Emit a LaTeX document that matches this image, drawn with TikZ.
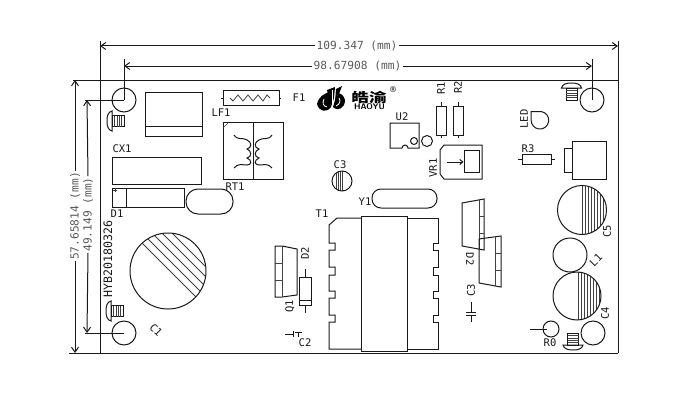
\documentclass[tikz,border=0pt]{standalone}
\usepackage{fontspec}
\setmainfont{DejaVu Sans}
\setmonofont{DejaVu Sans Mono}
\newfontfamily\cjk{Noto Sans CJK SC}
\usetikzlibrary{arrows.meta}

\tikzset{
	part/.style={draw=black!90, line width=1pt},
	fine/.style={draw=black!75, line width=0.6pt},
	lbl/.style={font=\ttfamily\fontsize{10.5}{12}\selectfont, text=black!90, inner sep=0pt},
	dimlbl/.style={font=\ttfamily\fontsize{11.2}{12}\selectfont, text=black!65, inner sep=1pt},
	dimline/.style={draw=black!90, line width=1pt, {Straight Barb[length=5pt,width=7pt]}-},
	screw/.pic={
		\draw[part] (5,-10) .. controls (1,-9) and (0,-5) .. (0,0) .. controls (0,5) and (1,9) .. (5,10) -- cycle;
		\draw[part] (5,-5.5) rectangle (17,5.5);
		\foreach \tx in {7.4,9.8,12.2,14.6}
			\draw[fine] (\tx,-5.5) -- (\tx,5.5);
	},
}

\begin{document}
\begin{tikzpicture}[x=1pt, y=-1pt]
	\useasboundingbox (0,0) rectangle (700,404);

	% board edge and extension lines
	\coordinate (topL) at (73,80);
	\coordinate (topR) at (618,80);
	\coordinate (botL) at (69,353);
	\coordinate (botR) at (618,353);
	\coordinate (edgeL) at (100,41);
	\coordinate (edgeLb) at (100,353);
	\coordinate (edgeR) at (618,41);
	\draw[part] (topL) -- (topR);
	\draw[part] (botL) -- (botR);
	\draw[part] (edgeL) -- (edgeLb);
	\draw[part] (edgeR) -- (botR);

	% holes
	\node[part, circle, minimum size=24pt, inner sep=0pt] (holeTL) at (124,100) {};
	\node[part, circle, minimum size=24pt, inner sep=0pt] (holeTR) at (592,100) {};
	\node[part, circle, minimum size=24pt, inner sep=0pt] (holeBL) at (124,333) {};
	\node[part, circle, minimum size=24pt, inner sep=0pt] (holeBR) at (593,333) {};
	\coordinate (extL) at (124,59);
	\coordinate (extR) at (592,59);
	\coordinate (extA) at (85,100);
	\coordinate (extB) at (85,333);
	\draw[part] (extL) -- (holeTL.center);
	\draw[part] (extR) -- (holeTR.center);
	\draw[part] (extA) -- (holeTL.center);
	\draw[part] (extB) -- (holeBL.center);

	% dimensions
	\node[dimlbl] (dimA) at (357,46) {109.347 (mm)};
	\node[dimlbl] (dimB) at (357.5,66) {98.67908 (mm)};
	\node[dimlbl, rotate=90] (dimC) at (75,216) {57.65814 (mm)};
	\node[dimlbl, rotate=90] (dimD) at (88,214.5) {49.149 (mm)};
	\coordinate (dimAl) at (100,46);
	\coordinate (dimAr) at (618,46);
	\coordinate (dimBl) at (124,66);
	\coordinate (dimBr) at (592,66);
	\coordinate (dimCt) at (75,80);
	\coordinate (dimCb) at (75,353);
	\coordinate (dimDt) at (87,100);
	\coordinate (dimDb) at (87,333);
	\draw[dimline] (dimAl) -- (dimA.west);
	\draw[dimline] (dimAr) -- (dimA.east);
	\draw[dimline] (dimBl) -- (dimB.west);
	\draw[dimline] (dimBr) -- (dimB.east);
	\draw[dimline] (dimCt) -- (dimC.east);
	\draw[dimline] (dimCb) -- (dimC.west);
	\draw[dimline] (dimDt) -- (dimD.east);
	\draw[dimline] (dimDb) -- (dimD.west);

	% screws
	\pic at (107,121) {screw};
	\pic at (106,311) {screw};
	\pic[rotate=-90] at (571.5,83) {screw};
	\pic[rotate=90] at (573,350) {screw};

	% left side parts
	\draw[part] (145,92) rectangle (202,136);
	\draw[part] (145,126) -- (202,126);
	\draw[part] (112,157) rectangle (201,184);
	\node[lbl] (labCX) at (122,149) {CX1};
	\draw[part] (112,188) rectangle (184,207);
	\draw[part] (126,188) -- (126,207);
	\draw[fine] (113,190) -- (117,190) (115,188) -- (115,192);
	\node[lbl] (labDa) at (117,214) {D1};
	\draw[part, rounded corners=12pt] (186,189) rectangle (233,214);
	\node[lbl] (labRT) at (235,187) {RT1};
	\node[lbl, rotate=90, font=\ttfamily\fontsize{11.6}{12}\selectfont] (labHYB) at (108,259) {HYB20180326};

	% F1 and LF1
	\draw[part] (223,90) rectangle (279,105);
	\draw[part] (221,98) -- (223,98) (279,98) -- (281,98);
	\draw[fine, line width=0.8pt] (230,98) -- (233,101) -- (238,95) -- (243,101) -- (248,95) -- (253,101) -- (258,95) -- (263,101) -- (267,95) -- (270,98);
	\node[lbl] (labF) at (299,98) {F1};
	\node[lbl] (labLF) at (221,113) {LF1};
	\draw[part] (223,122) rectangle (283,179);
	\draw[part] (253,122) -- (253,179);
	\draw[fine] (223,128) -- (229,122);
	\draw[part] (234,135) .. controls (238,141) and (243,137) .. (247,140)
		.. controls (252,142) and (252,148) .. (247,149)
		.. controls (252,151) and (252,157) .. (247,158)
		.. controls (252,160) and (252,165) .. (247,165)
		.. controls (242,165) and (238,163) .. (234,168);
	\begin{scope}[xshift=506pt, xscale=-1]
		\draw[part] (234,135) .. controls (238,141) and (243,137) .. (247,140)
			.. controls (252,142) and (252,148) .. (247,149)
			.. controls (252,151) and (252,157) .. (247,158)
			.. controls (252,160) and (252,165) .. (247,165)
			.. controls (242,165) and (238,163) .. (234,168);
	\end{scope}

	% C1
	\begin{scope}
		\clip (168,271) circle (38);
		\foreach \hc in {101,91,81,71,61}
			\draw[fine, line width=0.8pt] (120,120+\hc) -- (220,220+\hc);
	\end{scope}
	\draw[part] (168,271) circle (38);
	\node[lbl, rotate=-45] (labCa) at (156,330) {C1};

	% Q1 and D2
	\draw[part] (275,246) -- (282,246) -- (297,249) -- (297,295) -- (282,297) -- (275,297) -- cycle;
	\draw[fine] (282,246) -- (282,297);
	\draw[fine] (275,263) -- (282,263) (275,280) -- (282,280);
	\node[lbl, rotate=90] (labQ) at (290,306) {Q1};
	\draw[part] (299,277) rectangle (311,305);
	\draw[part] (299,300) -- (311,300);
	\draw[part] (305,269) -- (305,277) (305,305) -- (305,313);
	\node[lbl, rotate=90] (labDb) at (305,253) {D2};
	\draw[part] (285,334) -- (293,334) (293,331) -- (293,337);
	\draw[part] (295,332) -- (302,332) (298.5,332) -- (298.5,337);
	\node[lbl] (labCb) at (305,343) {C2};

	% T1
	\draw[part] (361,218) -- (337,218) -- (329,225) -- (329,243) -- (335,243) -- (335,250) -- (329,250)
		-- (329,267) -- (335,267) -- (335,275) -- (329,275)
		-- (329,291) -- (335,291) -- (335,298) -- (329,298)
		-- (329,315) -- (335,315) -- (335,322) -- (329,322) -- (329,349) -- (361,349);
	\draw[part] (407,218) -- (438,218) -- (438,243) -- (433,243) -- (433,250) -- (438,250)
		-- (438,267) -- (433,267) -- (433,275) -- (438,275)
		-- (438,291) -- (433,291) -- (433,298) -- (438,298)
		-- (438,315) -- (433,315) -- (433,322) -- (438,322) -- (438,349) -- (407,349);
	\draw[part] (361,216) rectangle (407,351);
	\node[lbl] (labT) at (322,214) {T1};

	% Y1 and C3
	\draw[part, rounded corners=9pt] (372,189) rectangle (437,208);
	\node[lbl] (labY) at (365,202) {Y1};
	\begin{scope}
		\clip (342,181) circle (10);
		\foreach \hx in {336,338,340,342}
			\draw[fine, line width=0.8pt] (\hx,170) -- (\hx,192);
	\end{scope}
	\draw[part] (342,181) circle (10);
	\node[lbl] (labCc) at (340,165) {C3};

	% logo
	\fill[black] (317,104) .. controls (319,96) and (324,94) .. (329,92) -- (331,107) .. controls (327,113) and (319,112) .. (317,104) -- cycle;
	\fill[black] (345,100) .. controls (344,95) and (340,93) .. (337,93) -- (333,107) .. controls (338,112) and (345,108) .. (345,100) -- cycle;
	\fill[black] (327,90) -- (335,87) -- (334,98) -- (331,107) -- cycle;
	\fill[black] (336,89) -- (342,86) -- (339,94) -- (335,102) -- cycle;
	\draw[white, line width=0.8pt] (324,99) .. controls (322,103) and (323,106) .. (327,107);
	\draw[white, line width=0.8pt] (332,90) -- (332,108);
	\draw[white, line width=0.8pt] (339,98) .. controls (341,101) and (340,104) .. (336,106);
	\node[inner sep=0pt, transform shape, xscale=1.35, font=\cjk\bfseries\fontsize{13}{13}\selectfont] (logoCn) at (369,97) {皓渝};
	\node[inner sep=0pt, font=\sffamily\bfseries\fontsize{8.2}{9}\selectfont] (logoEn) at (369.5,107) {HAOYU};
	\node[inner sep=0pt, font=\fontsize{8}{9}\selectfont] (logoR) at (393,90) {®};

	% U2, R1, R2, VR1
	\draw[part] (390,123) -- (419,123) -- (419,148) -- (408,148) arc (0:-180:3) -- (390,148) -- cycle;
	\draw[part] (414,141) circle (3.5);
	\draw[part] (427,141) circle (5.5);
	\node[lbl] (labU) at (402,117) {U2};
	\draw[part] (436,106) rectangle (446,135);
	\draw[part] (441,102) -- (441,106) (441,135) -- (441,138);
	\node[lbl, rotate=90] (labRa) at (441,88) {R1};
	\draw[part] (453,106) rectangle (463,135);
	\draw[part] (458,102) -- (458,106) (458,135) -- (458,138);
	\node[lbl, rotate=90] (labRb) at (458,87) {R2};
	\draw[part] (444,145) -- (482,145) -- (482,179) -- (444,179) -- (440,174) -- (440,150) -- cycle;
	\node[part, minimum width=15pt, minimum height=22pt, inner sep=0pt] (wiper) at (471.5,161) {};
	\coordinate (wiperIn) at (447,162);
	\draw[part, -{Straight Barb[length=3pt,width=5pt]}] (wiperIn) -- (wiper.west |- wiperIn);
	\node[lbl, rotate=90] (labVR) at (433,168) {VR1};

	% D2 and C3 on the right
	\draw[part] (462,203) -- (484,199) -- (484,250) -- (462,246) -- cycle;
	\draw[fine] (479,200) -- (479,249);
	\draw[fine] (479,216) -- (484,216) (479,233) -- (484,233);
	\draw[part] (479,239) -- (501,236) -- (501,287) -- (479,283) -- cycle;
	\draw[fine] (495,237) -- (495,286);
	\draw[fine] (495,253) -- (501,253) (495,270) -- (501,270);
	\node[lbl, rotate=-90] (labDc) at (470,259) {D2};
	\node[lbl, rotate=90] (labCd) at (471,290) {C3};
	\draw[part] (471,302) -- (471,312) (466,312) -- (476,312);
	\draw[part] (466,315) -- (476,315) (471,315) -- (471,322);

	% right side parts
	\draw[part] (531,111.5) -- (541,111.5) arc (-83:180:8.8) -- cycle;
	\node[lbl, rotate=90] (labLED) at (524,119) {LED};
	\draw[part] (522,154) rectangle (551,164);
	\draw[part] (518,159) -- (522,159) (551,159) -- (555,159);
	\node[lbl] (labRc) at (528,149) {R3};
	\draw[part] (572,141) rectangle (606,179);
	\draw[part] (572,148) -- (564,148) -- (564,172) -- (572,172);

	\begin{scope}
		\clip (582,210) circle (24.5);
		\foreach \hx in {582,585,...,606}
			\draw[fine, line width=0.8pt] (\hx,184) -- (\hx,236);
	\end{scope}
	\draw[part] (582,210) circle (24.5);
	\node[lbl, rotate=90] (labCe) at (607,231) {C5};
	\draw[part] (570,255) circle (17);
	\node[lbl, rotate=45] (labL) at (596,260) {L1};
	\begin{scope}
		\clip (577,296) circle (24);
		\foreach \hx in {578,581,...,601}
			\draw[fine, line width=0.8pt] (\hx,270) -- (\hx,322);
	\end{scope}
	\draw[part] (577,296) circle (24);
	\node[lbl, rotate=90] (labCf) at (605,313) {C4};
	\node[part, circle, minimum size=16pt, inner sep=0pt] (roHole) at (551,329) {};
	\coordinate (roEnd) at (530,329);
	\coordinate (roIn) at (547,329);
	\draw[part] (roEnd) -- (roIn);
	\node[lbl] (labR) at (550,343) {R0};
\end{tikzpicture}
\end{document}
